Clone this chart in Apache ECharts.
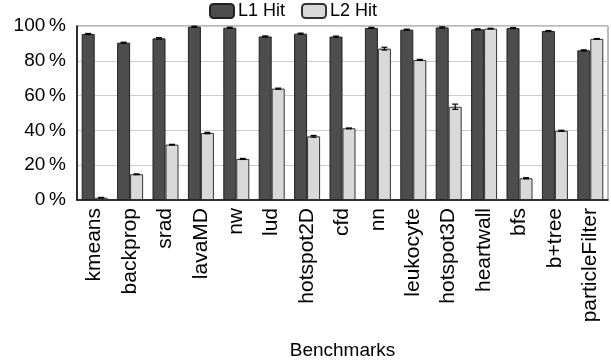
<!DOCTYPE html>
<html>
<head>
<meta charset="utf-8">
<script src="https://cdn.jsdelivr.net/npm/echarts@6/dist/echarts.min.js"></script>
<style>
  html, body { margin: 0; padding: 0; background: #fff; }
  #chart { width: 611px; height: 364px; }
</style>
</head>
<body>
<div id="chart"></div>
<script>
const benchmarks = ['kmeans', 'backprop', 'srad', 'lavaMD', 'nw', 'lud', 'hotspot2D', 'cfd', 'nn',
  'leukocyte', 'hotspot3D', 'heartwall', 'bfs', 'b+tree', 'particleFilter'];
const l1Hit = [95.4, 90.4, 92.9, 99.6, 99, 94, 95.6, 93.9, 98.9, 97.9, 99.2, 98.1, 98.8, 97.1, 86];
const l2Hit = [1.3, 14.8, 31.8, 38.5, 23.6, 64, 36.6, 41.2, 87, 80.5, 53.6, 98.5, 12.5, 39.8, 92.6];
const l1Err = [0.3, 0.3, 0.4, 0.3, 0.3, 0.3, 0.3, 0.3, 0.3, 0.3, 0.3, 0.3, 0.3, 0.3, 0.3];
const l2Err = [0.2, 0.2, 0.2, 0.4, 0.3, 0.3, 0.5, 0.2, 0.8, 0.3, 1.5, 0.2, 0.3, 0.3, 0.2];
const yTicks = [0, 20, 40, 60, 80, 100];

const chart = echarts.init(document.getElementById('chart'));
const BAR_W = 13;

// small error bars drawn on top of each bar
function errorSeries(name, values, errs, offset) {
  return {
    type: 'custom',
    name: name + ' err',
    silent: true,
    z: 5,
    data: values.map((v, i) => [i, v - errs[i], v + errs[i]]),
    renderItem: function (params, api) {
      const lo = api.coord([api.value(0), api.value(1)]);
      const hi = api.coord([api.value(0), api.value(2)]);
      const x = lo[0] + offset;
      const hw = 3;
      const style = { stroke: '#000', lineWidth: 1.2 };
      return {
        type: 'group',
        children: [
          { type: 'line', shape: { x1: x, y1: hi[1], x2: x, y2: lo[1] }, style: style },
          { type: 'line', shape: { x1: x - hw, y1: hi[1], x2: x + hw, y2: hi[1] }, style: style },
          { type: 'line', shape: { x1: x - hw, y1: lo[1], x2: x + hw, y2: lo[1] }, style: style }
        ]
      };
    }
  };
}

const option = {
  animation: false,
  textStyle: { fontFamily: 'Liberation Sans, Arial, sans-serif' },
  legend: {
    top: 2,
    left: 209,
    padding: 0,
    itemWidth: 24,
    itemHeight: 14,
    itemGap: 16,
    textStyle: { fontSize: 18, color: '#000', padding: [0, 0, 0, -1] },
    data: ['L1 Hit', 'L2 Hit']
  },
  grid: {
    left: 77,
    right: 3,
    top: 26,
    bottom: 164,
    show: true,
    borderColor: '#777',
    borderWidth: 1
  },
  xAxis: {
    type: 'category',
    data: benchmarks,
    name: 'Benchmarks',
    nameLocation: 'middle',
    nameGap: 141,
    nameTextStyle: { fontSize: 19, color: '#000' },
    axisTick: { show: false },
    axisLine: { lineStyle: { color: '#000', width: 1.5 } },
    axisLabel: { rotate: 90, fontSize: 21, color: '#000', margin: 8, interval: 0 }
  },
  yAxis: {
    type: 'value',
    min: yTicks[0],
    max: yTicks[yTicks.length - 1],
    interval: 20,
    axisLine: { show: true, lineStyle: { color: '#000', width: 1.5 } },
    axisTick: { show: false },
    splitLine: { lineStyle: { color: '#cccccc', width: 1 } },
    axisLabel: { fontSize: 19, color: '#000', margin: 11, formatter: '{value}\u2009%' }
  },
  series: [
    {
      type: 'bar',
      name: 'L1 Hit',
      data: l1Hit,
      barWidth: BAR_W,
      barGap: '0%',
      itemStyle: { color: '#4d4d4d', borderColor: '#222', borderWidth: 1 }
    },
    {
      type: 'bar',
      name: 'L2 Hit',
      data: l2Hit,
      barWidth: BAR_W,
      barGap: '0%',
      itemStyle: { color: '#d9d9d9', borderColor: '#333', borderWidth: 1 }
    },
    errorSeries('L1 Hit', l1Hit, l1Err, -BAR_W / 2),
    errorSeries('L2 Hit', l2Hit, l2Err, BAR_W / 2)
  ]
};

chart.setOption(option);
</script>
</body>
</html>
